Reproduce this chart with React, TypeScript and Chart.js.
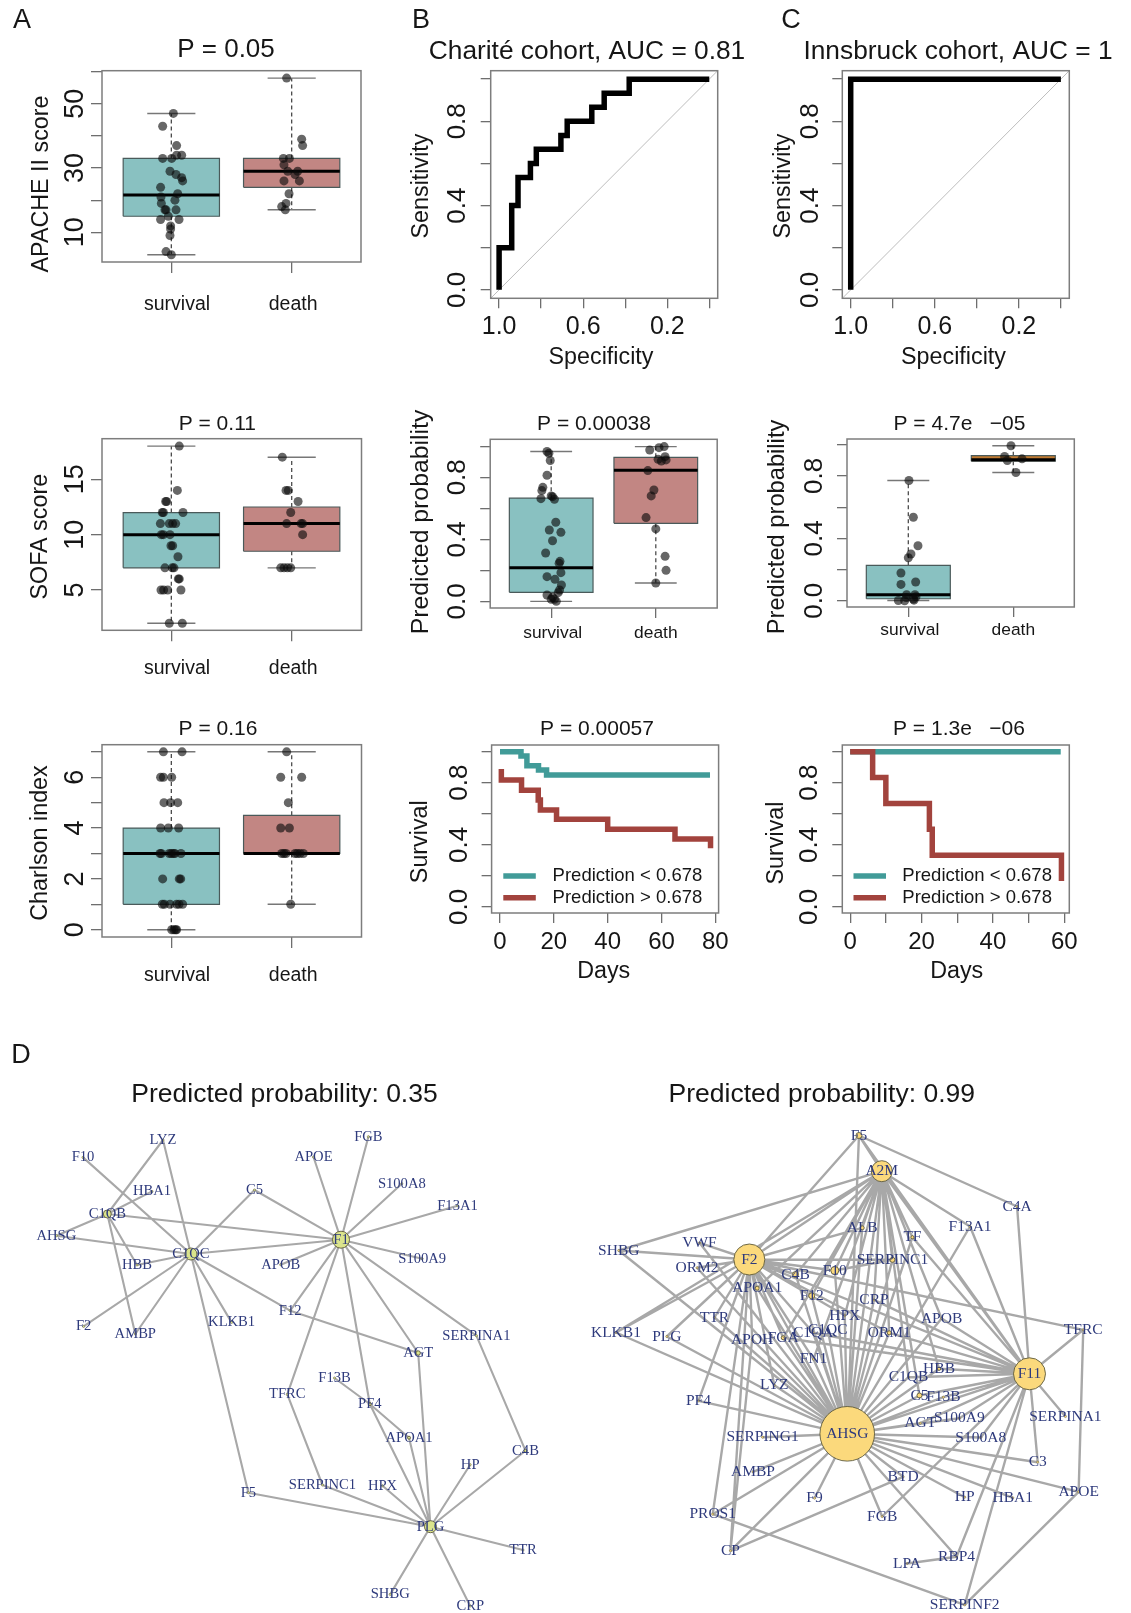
import React, { useEffect, useRef } from "react";
import { Chart, registerables } from "chart.js";
Chart.register(...registerables);

const SANS = "'Liberation Sans', Arial, sans-serif";
const SERIF = "'Liberation Serif', 'Times New Roman', serif";
const TEAL_FILL = "#89c1c1";
const RED_FILL = "#c28683";
const BROWN_FILL = "#c07a30";
const TEAL_LINE = "#419b98";
const RED_LINE = "#a2433d";
const TEXT = "#161616";

const categories = ["survival", "death"];

// ---- panel A: [lower whisker, q1, median, q3, upper whisker]
const apacheSurvivalBox = [3, 15, 21.6, 33, 47];
const apacheDeathBox = [17, 24, 29, 33, 58];
const apacheSurvivalX = [1.017, 0.928, 1.044, 0.928, 1.003, 1.044, 1.086, 0.989, 1.039, 1.086, 1.094, 0.911, 1.053, 0.914, 0.917, 1.03, 0.947, 0.956, 1.039, 0.975, 0.911, 1.064, 0.994, 0.994, 0.989, 0.956, 1.0];
const apacheSurvivalY = [47, 43, 37, 33, 33, 34, 34, 29, 28, 27, 26, 24, 22, 21, 19, 20, 17, 17, 17, 15, 14, 14, 12, 11, 9, 4, 3];
const apacheDeathX = [1.958, 2.083, 2.091, 1.931, 1.981, 1.936, 1.967, 2.05, 2.028, 1.936, 2.064, 1.978, 1.953, 1.917, 1.947];
const apacheDeathY = [58, 39, 37, 33, 33, 31, 29, 29, 28, 26, 26, 22, 19, 18, 17];

const sofaSurvivalBox = [2, 7, 10, 12, 18];
const sofaDeathBox = [7, 8.5, 11, 12.5, 17];
const sofaSurvivalX = [1.066, 1.05, 0.961, 0.953, 0.934, 0.925, 1.097, 0.909, 0.983, 1.011, 1.036, 0.934, 0.917, 0.989, 0.997, 1.011, 1.055, 0.947, 1.008, 1.022, 1.066, 1.058, 0.914, 0.936, 0.97, 1.08, 0.983, 1.091];
const sofaSurvivalY = [18, 14, 13, 13, 12, 12, 12, 11, 11, 11, 11, 10, 10, 10, 9, 9, 8, 7, 7, 7, 6, 6, 5, 5, 5, 5, 2, 2];
const sofaDeathX = [1.922, 1.953, 1.972, 2.053, 1.992, 1.958, 2.078, 2.091, 2.091, 1.909, 1.936, 1.964, 1.992];
const sofaDeathY = [17, 14, 14, 13, 12, 11, 11, 11, 10, 7, 7, 7, 7];

const charlsonSurvivalBox = [0, 1, 3, 4, 7];
const charlsonDeathBox = [1, 3, 3, 4.5, 7];
const charlsonSurvivalX = [0.934, 1.089, 0.911, 0.934, 1.003, 0.939, 0.994, 1.053, 0.911, 0.975, 1.061, 0.906, 0.917, 0.983, 1.0, 1.017, 1.03, 1.08, 0.928, 1.066, 1.078, 0.925, 0.942, 0.989, 1.044, 1.064, 1.094, 1.003, 1.022, 1.036, 1.044];
const charlsonSurvivalY = [7, 7, 6, 6, 6, 5, 5, 5, 4, 4, 4, 3, 3, 3, 3, 3, 3, 3, 2, 2, 2, 1, 1, 1, 1, 1, 1, 0, 0, 0, 0];
const charlsonDeathX = [1.958, 1.909, 2.083, 1.972, 1.909, 1.981, 1.917, 1.936, 1.953, 2.028, 2.047, 2.069, 2.097, 1.992];
const charlsonDeathY = [7, 6, 6, 5, 4, 4, 3, 3, 3, 3, 3, 3, 3, 1];

// ---- panels B / C: ROC curves
const charteSpec = [1, 0.94, 0.91, 0.851, 0.823, 0.706, 0.676, 0.559, 0.5, 0.381, 0];
const charteSens = [0, 0.2, 0.4, 0.533, 0.6, 0.667, 0.733, 0.8, 0.867, 0.933, 1];
const innsSpec = [1, 0];
const innsSens = [0, 1];
const rocDiagonal = [-0.04, 1.04];
const rocTicks = [1, 0.8, 0.6, 0.4, 0.2, 0];

// ---- panels B / C: predicted probability
const charteSurvivalBox = [0, 0.058, 0.217, 0.665, 0.966];
const charteDeathBox = [0.118, 0.503, 0.845, 0.929, 0.998];
const charteSurvivalX = [0.96, 0.978, 0.991, 0.96, 0.92, 0.911, 0.902, 1.0, 1.013, 1.031, 1.044, 0.982, 1.093, 1.013, 0.947, 1.084, 1.076, 1.093, 0.96, 1.036, 1.098, 1.08, 1.067, 0.96, 1.013, 1.031, 1.049, 1.0];
const charteSurvivalY = [0.966, 0.955, 0.908, 0.813, 0.735, 0.714, 0.662, 0.68, 0.675, 0.658, 0.51, 0.46, 0.445, 0.391, 0.312, 0.258, 0.245, 0.185, 0.159, 0.142, 0.105, 0.073, 0.056, 0.041, 0.026, 0.013, 0, 0.013];
const charteDeathX = [1.942, 2.031, 2.08, 2.022, 2.089, 2.053, 2.098, 1.924, 1.982, 1.956, 1.907, 2.0, 2.089, 2.098, 2.0];
const charteDeathY = [0.976, 0.991, 0.998, 0.916, 0.933, 0.905, 0.912, 0.843, 0.718, 0.68, 0.54, 0.467, 0.29, 0.2, 0.118];

const innsSurvivalBox = [0.002, 0.013, 0.039, 0.227, 0.771];
const innsDeathBox = [0.822, 0.895, 0.904, 0.93, 0.994];
const innsSurvivalX = [1.006, 1.048, 1.092, 1.025, 1.0, 0.93, 0.93, 1.07, 0.984, 1.063, 0.981, 1.073, 1.054, 0.905, 0.965, 1.048];
const innsSurvivalY = [0.771, 0.535, 0.353, 0.3, 0.276, 0.178, 0.105, 0.12, 0.039, 0.039, 0.021, 0.026, 0.004, 0.002, 0, 0.011];
const innsDeathX = [1.978, 1.917, 1.943, 2.083, 2.025];
const innsDeathY = [0.994, 0.925, 0.899, 0.91, 0.822];

// ---- panels B / C: survival
const kmLegend = ["Prediction < 0.678", "Prediction > 0.678"];
const charteLowDays = [0, 7.8, 10, 14.3, 17.3, 78];
const charteLowSurv = [1, 0.972, 0.91, 0.882, 0.85, 0.85];
const charteHighDays = [0.5, 0.5, 8, 14.2, 15, 21, 40, 65, 78.2];
const charteHighSurv = [0.888, 0.818, 0.751, 0.689, 0.624, 0.564, 0.5, 0.438, 0.378];
const innsLowDays = [0, 59];
const innsLowSurv = [1, 1];
const innsHighDays = [0, 6.3, 10, 22.2, 23, 59.2];
const innsHighSurv = [1, 0.833, 0.667, 0.5, 0.333, 0.167];

// ---- panel D: network layouts
const leftNames = ["LYZ","F10","HBA1","C1QB","AHSG","C1QC","HBB","F1","C5","APOE","FGB","S100A8","F13A1","S100A9","APOB","F12","KLKB1","F2","AMBP","SERPINA1","AGT","F13B","TFRC","PF4","APOA1","C4B","HP","HPX","SERPINC1","F5","PLG","TTR","SHBG","CRP"];
const leftX = [163,83,152,107.3,56.4,190.9,137,341,254.5,313.5,368.4,401.8,457.5,422.2,280.7,290.2,231.6,83.6,135.3,476.4,418.2,334.5,287.3,369.8,409,525.5,470.2,382.5,322.5,248.4,430.5,523,390.2,470.2];
const leftY = [1139.3,1156.7,1190.7,1213.3,1235,1253.3,1264.3,1239,1189.3,1156.3,1136,1183,1205,1258,1264,1310,1321.7,1325.7,1333.3,1335,1352.3,1377.3,1393.7,1403.3,1437,1450,1464,1485,1484.3,1492,1526,1549.3,1593.7,1605.3];
const leftSizes: Record<string, number> = { F1: 8.5, C1QC: 6, PLG: 6, C1QB: 4, AGT: 2.2, PF4: 1.6, APOA1: 1.5, C4B: 1.5 };
const leftEdges = [
  "C1QB LYZ HBA1 AHSG F1 HBB AMBP",
  "C1QC LYZ F10 AHSG C5 F1 HBB F2 AMBP KLKB1 F12 F5",
  "F1 APOE FGB S100A8 F13A1 S100A9 APOB C5 F12 TFRC PF4 AGT SERPINA1",
  "F12 AGT", "SERPINA1 C4B", "TFRC SERPINC1", "F13B PF4", "PF4 APOA1",
  "PLG PF4 APOA1 AGT C4B HP HPX SERPINC1 F5 TTR SHBG CRP",
];
const rightNames = ["F5","A2M","C4A","F13A1","ALB","TF","VWF","SHBG","F2","SERPINC1","ORM2","F10","C4B","APOA1","F12","CRP","HPX","TTR","APOB","KLKB1","C1QA","C1QC","ORM1","PLG","APOH","FGA","TFRC","FN1","HBB","C1QB","F11","LYZ","C5","F13B","PF4","S100A9","SERPINA1","AGT","AHSG","SERPING1","S100A8","C3","AMBP","BTD","APOE","F9","HP","HBA1","FGB","PROS1","CP","LPA","RBP4","SERPINF2"];
const rightX = [863.8,887.1,1025.3,977.3,867.1,918.4,700.9,618.4,751.8,898,698.4,839.1,799,759.8,815.5,879.1,849.3,716.2,948.2,615.5,817,832,894.7,667.5,754.7,786.4,1092.9,817.3,945.6,914.4,1038,777.3,925.6,950,699.8,966.4,1074.7,926.4,851.8,765.3,988.2,1046.4,755.5,908.9,1088.2,818.4,971.8,1020.9,887.5,714.4,732.5,912.9,963.5,971.8];
const rightY = [1135,1170.7,1206,1226,1227.3,1236.7,1242.3,1250,1259,1259.3,1267.3,1270,1274,1287.7,1295.3,1299.3,1315,1317,1318,1332,1332.3,1329.3,1332.3,1336,1339,1337.3,1329.3,1358.7,1368.3,1376.7,1373.3,1384.7,1395,1396.7,1400.3,1417.7,1416,1422.7,1433.3,1436.7,1437,1461.7,1471.3,1476.3,1491.3,1497.7,1496.7,1497.3,1516,1513.7,1550.3,1563,1556.3,1604.3];
const rightSizes: Record<string, number> = { AHSG: 27.3, F11: 16, F2: 15.5, A2M: 10.5, F10: 4, F5: 3, C4B: 3, F12: 3, C5: 2.5, SERPINC1: 2.5, APOA1: 2, FGA: 2, ORM1: 2, ALB: 2, TF: 1.6, HBB: 1.6 };
const rightEdges = [
  "AHSG A2M F2 F11 F5 ALB TF SERPINC1 F10 C4B APOA1 F12 CRP HPX TTR APOB KLKB1 C1QA C1QC ORM1 PLG APOH FGA VWF SHBG FN1 HBB C1QB LYZ C5 F13B PF4 S100A9 AGT SERPING1 S100A8 C3 AMBP BTD APOE F9 HP HBA1 FGB PROS1 CP ORM2 F13A1 RBP4",
  "F2 A2M F5 SHBG VWF ORM2 KLKB1 PLG ALB C4B F10 SERPINC1 F12 APOA1 TTR APOH PF4 PROS1 CP FGA FN1 LYZ HPX ORM1 F11 TFRC C1QA",
  "F11 A2M F5 C4A F13A1 TF TFRC ORM1 APOB FGA C1QA HBB C1QB C5 F13B S100A9 S100A8 SERPINA1 C3 FGB RBP4 SERPINF2 AGT CRP",
  "A2M F5 SHBG F13A1 ALB TF HBB KLKB1 APOA1 C4B F10 F12 CRP HPX SERPINC1 ORM1 FN1 FGA C1QB C5 APOB",
  "F5 C4A", "TFRC APOE", "APOE SERPINF2", "SERPINF2 PROS1", "RBP4 LPA", "CP BTD", "CP APOH", "F10 SERPINC1",
];

type Ann = { t: string; x: number; y: number; fs: number; rot?: boolean; family?: string };
type Leg = { x0: number; x1: number; tx: number; y: number; color: string; label: string; fs: number };

const measureCtx = document.createElement("canvas").getContext("2d")!;
function textWidth(t: string, fs: number) {
  measureCtx.font = `${fs}px ${SANS}`;
  return measureCtx.measureText(t).width;
}

// Draws titles, axis titles, legends and the R style frame.
const decorPlugin = {
  id: "decor",
  afterDraw(chart: any, _a: any, o: any) {
    const ctx = chart.ctx;
    const [fx, fy] = o.origin;
    if (o.frame) {
      const a = chart.chartArea;
      ctx.save();
      ctx.strokeStyle = "#7d7d7d";
      ctx.lineWidth = 1.5;
      ctx.strokeRect(a.left, a.top, a.right - a.left, a.bottom - a.top);
      ctx.restore();
    }
    (o.legend || []).forEach((l: Leg) => {
      ctx.save();
      ctx.strokeStyle = l.color;
      ctx.lineWidth = 5.5;
      ctx.beginPath();
      ctx.moveTo(l.x0 - fx, l.y + 1 - fy);
      ctx.lineTo(l.x1 - fx, l.y + 1 - fy);
      ctx.stroke();
      ctx.fillStyle = TEXT;
      ctx.font = `${l.fs}px ${SANS}`;
      ctx.textAlign = "left";
      ctx.textBaseline = "middle";
      ctx.fillText(l.label, l.tx - fx, l.y + 1 - fy);
      ctx.restore();
    });
    (o.texts || []).forEach((a: Ann) => {
      ctx.save();
      ctx.translate(a.x - fx + (a.rot ? 2 : 0), a.y - fy + (a.rot ? 0 : 2));
      if (a.rot) ctx.rotate(-Math.PI / 2);
      ctx.fillStyle = TEXT;
      ctx.font = `${a.fs}px ${a.family || SANS}`;
      ctx.textAlign = "center";
      ctx.textBaseline = "middle";
      ctx.fillText(a.t, 0, 0);
      ctx.restore();
    });
  },
};

// Writes each gene name on its node.
const nodeLabelPlugin = {
  id: "nodeLabels",
  afterDraw(chart: any, _a: any, o: any) {
    if (!o.names) return;
    const ctx = chart.ctx;
    const meta = chart.getDatasetMeta(0);
    ctx.save();
    ctx.fillStyle = "#2e3a7c";
    ctx.font = `${o.fs}px ${SERIF}`;
    ctx.textAlign = "center";
    ctx.textBaseline = "middle";
    o.names.forEach((n: string, i: number) => {
      const p = meta.data[i];
      ctx.fillText(n, p.x, p.y);
    });
    ctx.restore();
  },
};

const GAP = { x: null as any, y: null as any };
const zip = (xs: number[], ys: number[]) => xs.map((x, i) => ({ x, y: ys[i] }));

function boxDatasets(pos: number, s: number[], fill: string) {
  const [lo, q1, med, q3, hi] = s;
  const hw = 0.4;
  const cw = 0.2;
  return [
    { data: [{ x: pos, y: q3 }, { x: pos, y: hi }, GAP, { x: pos, y: q1 }, { x: pos, y: lo }], showLine: true, pointRadius: 0, borderColor: "#4c4c4c", borderWidth: 1.3, borderDash: [4, 3], order: 6 },
    { data: [{ x: pos - cw, y: hi }, { x: pos + cw, y: hi }, GAP, { x: pos - cw, y: lo }, { x: pos + cw, y: lo }], showLine: true, pointRadius: 0, borderColor: "#777777", borderWidth: 1.4, order: 5 },
    { data: [{ x: pos - hw, y: q1 }, { x: pos + hw, y: q1 }, { x: pos + hw, y: q3 }, { x: pos - hw, y: q3 }, { x: pos - hw, y: q1 }], showLine: true, pointRadius: 0, borderColor: "#4a5a5a", borderWidth: 1.2, backgroundColor: fill, fill: "shape", order: 4 },
    { data: [{ x: pos - hw, y: med }, { x: pos + hw, y: med }], showLine: true, pointRadius: 0, borderColor: "#000000", borderWidth: 3, order: 3 },
  ];
}
const dots = (xs: number[], ys: number[]) => ({ data: zip(xs, ys), pointRadius: 4.5, pointBorderWidth: 0, pointBackgroundColor: "rgba(10,10,10,0.62)", showLine: false, order: 1 });

type Panel = {
  frame: number[]; box: number[]; xr: number[]; yr: number[];
  xTicks: number[]; xLabel: (v: number) => string; xFs: number; xBase: number; labelShift?: number[];
  yTicks: number[]; yShown: number[]; dec: number; yFs: number; yc: number; tl: number;
  datasets: any[]; texts: Ann[]; legend?: Leg[]; reverse?: boolean;
};

function panelConfig(p: Panel) {
  const [l, t, r, b] = p.frame;
  const [x0, y0, x1, y1] = p.box;
  const fmt = (v: number) => v.toFixed(p.dec);
  const shownText = p.yShown.map(fmt);
  const widest = Math.max(...shownText.map((s) => textWidth(s, p.yFs)));
  return {
    type: "scatter",
    data: { datasets: p.datasets },
    plugins: [decorPlugin],
    options: {
      animation: false, responsive: false,
      layout: { autoPadding: false, padding: { left: 0, top: y0 - t, right: r - x1, bottom: 0 } },
      plugins: { legend: { display: false }, tooltip: { enabled: false }, title: { display: false }, decor: { origin: [l, t], frame: true, texts: p.texts, legend: p.legend || [] } },
      scales: {
        x: {
          type: "linear", min: p.xr[0], max: p.xr[1], reverse: !!p.reverse,
          grid: { drawOnChartArea: false, drawTicks: true, tickLength: p.tl, color: "#6e6e6e", lineWidth: 1.3 }, border: { display: false },
          ticks: { autoSkip: false, maxRotation: 0, minRotation: 0, color: TEXT, font: { family: SANS, size: p.xFs }, padding: p.xBase + 1 - y1 - p.tl - p.xFs * 0.905, callback: (v: number) => p.xLabel(v) },
          afterBuildTicks: (s: any) => { s.ticks = p.xTicks.map((value) => ({ value })); },
          afterFit: (s: any) => { s.height = b - y1; s.paddingLeft = 0; s.paddingRight = 0; s.paddingTop = 0; s.paddingBottom = 0; },
          afterUpdate: (s: any) => {
            if (!p.labelShift || s.__shifted) return;
            s.__shifted = true;
            const compute = s._computeLabelItems;
            s._computeLabelItems = function (area: any) {
              const items = compute.call(this, area);
              items.forEach((it: any, i: number) => {
                const [tx, ty] = it.options.translation;
                it.options.translation = [tx + (p.labelShift![i] || 0), ty];
              });
              return items;
            };
            s._labelItems = null;
          },
        },
        y: {
          type: "linear", min: p.yr[0], max: p.yr[1],
          grid: { drawOnChartArea: false, drawTicks: true, tickLength: p.tl, color: "#6e6e6e", lineWidth: 1.3 }, border: { display: false },
          ticks: { autoSkip: false, minRotation: 90, maxRotation: 90, crossAlign: "center", color: TEXT, font: { family: SANS, size: p.yFs }, padding: x0 - p.tl - p.yc - widest / 2, callback: (v: number) => (shownText.includes(fmt(v)) ? fmt(v) : "") },
          afterBuildTicks: (s: any) => { s.ticks = p.yTicks.map((value) => ({ value })); },
          afterFit: (s: any) => { s.width = x0 - l; s.paddingLeft = 0; s.paddingRight = 0; s.paddingTop = 0; s.paddingBottom = 0; },
        },
      },
    },
  };
}

function networkConfig(frame: number[], layoutFit: number[], names: string[], xs: number[], ys: number[], sizes: Record<string, number>, edges: string[], fill: string, fs: number, edgeWidth: number, texts: Ann[]) {
  const [l, t, r, b] = frame;
  const [ax, bx, ay, by] = layoutFit;
  const pos = (n: string) => { const i = names.indexOf(n); return { x: xs[i], y: ys[i] }; };
  const segs: any[] = [];
  edges.forEach((row) => {
    const [hub, ...rest] = row.split(" ");
    rest.forEach((n) => segs.push(pos(hub), pos(n), GAP));
  });
  return {
    type: "scatter",
    data: {
      datasets: [
        { data: zip(xs, ys), showLine: false, order: 1, pointRadius: names.map((n) => sizes[n] || 1.1), pointBackgroundColor: fill, pointBorderColor: "#5e5a3c", pointBorderWidth: names.map((n) => (sizes[n] ? 0.9 : 0.5)) },
        { data: segs, showLine: true, pointRadius: 0, borderColor: "#a8a8a8", borderWidth: edgeWidth, order: 2 },
      ],
    },
    plugins: [decorPlugin, nodeLabelPlugin],
    options: {
      animation: false, responsive: false, layout: { autoPadding: false, padding: 0 },
      plugins: { legend: { display: false }, tooltip: { enabled: false }, decor: { origin: [l, t], frame: false, texts }, nodeLabels: { names, fs } },
      scales: {
        x: { type: "linear", display: false, min: (l - bx) / ax, max: (r - bx) / ax },
        y: { type: "linear", display: false, min: (t - by) / ay, max: (b - by) / ay, reverse: true },
      },
    },
  };
}

const catLabel = (v: number) => categories[Math.round(v) - 1] || "";
const rocLabel = (v: number) => (Math.abs(v - 1) < 1e-6 || Math.abs(v - 0.6) < 1e-6 || Math.abs(v - 0.2) < 1e-6 ? v.toFixed(1) : "");
const dayLabel = (v: number) => (v % 20 === 0 ? String(v) : "");
const probTicks = [0, 0.2, 0.4, 0.6, 0.8, 1];
const probShown = [0, 0.4, 0.8];
const wideShift = [5.7, 1.5];
const narrowShift = [1.5, 0];

const panels: Panel[] = [
  {
    frame: [0, 0, 395, 390], box: [102, 70.7, 361, 262], xr: [0.424, 2.576], yr: [0.76, 60.3],
    xTicks: [1, 2], xLabel: catLabel, xFs: 19.5, xBase: 309.3, labelShift: wideShift, yTicks: [10, 20, 30, 40, 50, 60], yShown: [10, 30, 50], dec: 0, yFs: 27, yc: 76, tl: 11,
    datasets: [dots(apacheSurvivalX, apacheSurvivalY), dots(apacheDeathX, apacheDeathY), ...boxDatasets(1, apacheSurvivalBox, TEAL_FILL), ...boxDatasets(2, apacheDeathBox, RED_FILL)],
    texts: [{ t: "A", x: 22, y: 19, fs: 27 }, { t: "P = 0.05", x: 226, y: 48, fs: 26 }, { t: "APACHE II score", x: 40, y: 184, fs: 23.3, rot: true }],
  },
  {
    frame: [0, 390, 395, 695], box: [102, 438.7, 361.5, 630.3], xr: [0.424, 2.58], yr: [1.36, 18.67],
    xTicks: [1, 2], xLabel: catLabel, xFs: 19.5, xBase: 674, labelShift: wideShift, yTicks: [5, 10, 15], yShown: [5, 10, 15], dec: 0, yFs: 27, yc: 75.5, tl: 11,
    datasets: [dots(sofaSurvivalX, sofaSurvivalY), dots(sofaDeathX, sofaDeathY), ...boxDatasets(1, sofaSurvivalBox, TEAL_FILL), ...boxDatasets(2, sofaDeathBox, RED_FILL)],
    texts: [{ t: "P = 0.11", x: 217.3, y: 422.7, fs: 21 }, { t: "SOFA score", x: 39, y: 536.7, fs: 23.3, rot: true }],
  },
  {
    frame: [0, 695, 395, 1000], box: [102, 744.7, 361.5, 937], xr: [0.424, 2.58], yr: [-0.287, 7.28],
    xTicks: [1, 2], xLabel: catLabel, xFs: 19.5, xBase: 980.7, labelShift: wideShift, yTicks: [0, 1, 2, 3, 4, 5, 6, 7], yShown: [0, 2, 4, 6], dec: 0, yFs: 27, yc: 75.5, tl: 11,
    datasets: [dots(charlsonSurvivalX, charlsonSurvivalY), dots(charlsonDeathX, charlsonDeathY), ...boxDatasets(1, charlsonSurvivalBox, TEAL_FILL), ...boxDatasets(2, charlsonDeathBox, RED_FILL)],
    texts: [{ t: "P = 0.16", x: 218, y: 727, fs: 21 }, { t: "Charlson index", x: 39, y: 843, fs: 23.3, rot: true }],
  },
  {
    frame: [395, 0, 755, 390], box: [490.7, 70.7, 717.7, 298.3], xr: [-0.04, 1.04], yr: [-0.04, 1.04], reverse: true,
    xTicks: rocTicks, xLabel: rocLabel, xFs: 25, xBase: 334, yTicks: rocTicks, yShown: [0, 0.4, 0.8], dec: 1, yFs: 26, yc: 458, tl: 10,
    datasets: [
      { data: zip(charteSpec, charteSens), showLine: true, stepped: "after", pointRadius: 0, borderColor: "#000", borderWidth: 5.5, borderJoinStyle: "miter", order: 1 },
      { data: zip(rocDiagonal.slice().reverse(), rocDiagonal), showLine: true, pointRadius: 0, borderColor: "#bdbdbd", borderWidth: 1, order: 2 },
    ],
    texts: [{ t: "B", x: 421, y: 19, fs: 27 }, { t: "Charité cohort, AUC = 0.81", x: 587, y: 50, fs: 26.3 }, { t: "Sensitivity", x: 419.5, y: 186, fs: 23.3, rot: true }, { t: "Specificity", x: 601, y: 356, fs: 23.3 }],
  },
  {
    frame: [755, 0, 1131, 390], box: [842.3, 70.7, 1069.3, 298.3], xr: [-0.04, 1.04], yr: [-0.04, 1.04], reverse: true,
    xTicks: rocTicks, xLabel: rocLabel, xFs: 25, xBase: 334, yTicks: rocTicks, yShown: [0, 0.4, 0.8], dec: 1, yFs: 26, yc: 811, tl: 10,
    datasets: [
      { data: zip(innsSpec, innsSens), showLine: true, stepped: "after", pointRadius: 0, borderColor: "#000", borderWidth: 5.5, borderJoinStyle: "miter", order: 1 },
      { data: zip(rocDiagonal.slice().reverse(), rocDiagonal), showLine: true, pointRadius: 0, borderColor: "#bdbdbd", borderWidth: 1, order: 2 },
    ],
    texts: [{ t: "C", x: 791, y: 19, fs: 27 }, { t: "Innsbruck cohort, AUC = 1", x: 958, y: 50, fs: 26.3 }, { t: "Sensitivity", x: 781.4, y: 186, fs: 23.3, rot: true }, { t: "Specificity", x: 953.5, y: 356, fs: 23.3 }],
  },
  {
    frame: [395, 390, 755, 695], box: [490.2, 439.3, 717.2, 608], xr: [0.417, 2.587], yr: [-0.043, 1.045],
    xTicks: [1, 2], xLabel: catLabel, xFs: 17.4, xBase: 638, labelShift: narrowShift, yTicks: probTicks, yShown: probShown, dec: 1, yFs: 26, yc: 458, tl: 10,
    datasets: [dots(charteSurvivalX, charteSurvivalY), dots(charteDeathX, charteDeathY), ...boxDatasets(1, charteSurvivalBox, TEAL_FILL), ...boxDatasets(2, charteDeathBox, RED_FILL)],
    texts: [{ t: "P = 0.00038", x: 594, y: 422.7, fs: 21 }, { t: "Predicted probability", x: 419.5, y: 522, fs: 24.8, rot: true }],
  },
  {
    frame: [755, 390, 1131, 695], box: [847, 439, 1074.3, 607], xr: [0.416, 2.581], yr: [-0.04, 1.037],
    xTicks: [1, 2], xLabel: catLabel, xFs: 17.4, xBase: 635, labelShift: narrowShift, yTicks: probTicks, yShown: probShown, dec: 1, yFs: 26, yc: 815, tl: 10,
    datasets: [dots(innsSurvivalX, innsSurvivalY), dots(innsDeathX, innsDeathY), ...boxDatasets(1, innsSurvivalBox, TEAL_FILL), ...boxDatasets(2, innsDeathBox, BROWN_FILL)],
    texts: [{ t: "P = 4.7e   −05", x: 959.5, y: 422.7, fs: 21 }, { t: "Predicted probability", x: 775.8, y: 527, fs: 23.7, rot: true }],
  },
  {
    frame: [395, 695, 755, 1000], box: [491.6, 745, 718.6, 913], xr: [-3.12, 81.2], yr: [-0.039, 1.043],
    xTicks: [0, 20, 40, 60, 80], xLabel: dayLabel, xFs: 24, xBase: 949, yTicks: probTicks, yShown: probShown, dec: 1, yFs: 26, yc: 459.5, tl: 10,
    datasets: [
      { data: zip(charteHighDays, charteHighSurv), showLine: true, stepped: true, pointRadius: 0, borderColor: RED_LINE, borderWidth: 5.5, borderJoinStyle: "miter", order: 1 },
      { data: zip(charteLowDays, charteLowSurv), showLine: true, stepped: true, pointRadius: 0, borderColor: TEAL_LINE, borderWidth: 5.5, borderJoinStyle: "miter", order: 2 },
    ],
    texts: [{ t: "P = 0.00057", x: 597, y: 727.3, fs: 21 }, { t: "Survival", x: 418.6, y: 841.7, fs: 23.3, rot: true }, { t: "Days", x: 603.7, y: 970, fs: 23.3 }],
    legend: [
      { x0: 503.3, x1: 535.8, tx: 552.6, y: 875, color: TEAL_LINE, label: kmLegend[0], fs: 18.5 },
      { x0: 503.3, x1: 535.8, tx: 552.6, y: 896.7, color: RED_LINE, label: kmLegend[1], fs: 18.5 },
    ],
  },
  {
    frame: [755, 695, 1131, 1000], box: [842.3, 745, 1069.3, 913], xr: [-2.2, 61.4], yr: [-0.039, 1.043],
    xTicks: [0, 10, 20, 30, 40, 50, 60], xLabel: dayLabel, xFs: 24, xBase: 949, yTicks: probTicks, yShown: probShown, dec: 1, yFs: 26, yc: 810, tl: 10,
    datasets: [
      { data: zip(innsHighDays, innsHighSurv), showLine: true, stepped: true, pointRadius: 0, borderColor: RED_LINE, borderWidth: 5.5, borderJoinStyle: "miter", order: 1 },
      { data: zip(innsLowDays, innsLowSurv), showLine: true, stepped: true, pointRadius: 0, borderColor: TEAL_LINE, borderWidth: 5.5, borderJoinStyle: "miter", order: 2 },
    ],
    texts: [{ t: "P = 1.3e   −06", x: 959, y: 727.3, fs: 21 }, { t: "Survival", x: 774.4, y: 843, fs: 23.3, rot: true }, { t: "Days", x: 956.7, y: 970, fs: 23.3 }],
    legend: [
      { x0: 853.5, x1: 886, tx: 902.3, y: 875, color: TEAL_LINE, label: kmLegend[0], fs: 18.5 },
      { x0: 853.5, x1: 886, tx: 902.3, y: 896.7, color: RED_LINE, label: kmLegend[1], fs: 18.5 },
    ],
  },
];

const netLeftFrame = [0, 1000, 570, 1613];
const netRightFrame = [570, 1000, 1131, 1613];
const netLeftFit = [1, 0, 1, 0.7];
const netRightFit = [0.9789, 13.4, 1, 0.5];

function ChartCanvas({ frame, config }: { frame: number[]; config: () => any }) {
  const ref = useRef<HTMLCanvasElement>(null);
  useEffect(() => {
    const chart = new Chart(ref.current!, config());
    return () => chart.destroy();
  }, []);
  const [l, t, r, b] = frame;
  return (
    <canvas
      ref={ref}
      width={r - l}
      height={b - t}
      style={{ position: "absolute", left: l, top: t, width: r - l, height: b - t, filter: "blur(0.4px)" }}
    />
  );
}

export default function App() {
  return (
    <div style={{ position: "absolute", left: 0, top: 0, width: 1131, height: 1613, background: "#fff", overflow: "hidden" }}>
      {panels.map((p, i) => (
        <ChartCanvas key={i} frame={p.frame} config={() => panelConfig(p)} />
      ))}
      <ChartCanvas
        frame={netLeftFrame}
        config={() =>
          networkConfig(netLeftFrame, netLeftFit, leftNames, leftX, leftY, leftSizes, leftEdges, "#dbe48c", 14.6, 2.1, [
            { t: "D", x: 21, y: 1054, fs: 27 },
            { t: "Predicted probability: 0.35", x: 284.5, y: 1092.7, fs: 26.5 },
          ])
        }
      />
      <ChartCanvas
        frame={netRightFrame}
        config={() =>
          networkConfig(netRightFrame, netRightFit, rightNames, rightX, rightY, rightSizes, rightEdges, "#fbd97c", 15.5, 2.4, [
            { t: "Predicted probability: 0.99", x: 821.8, y: 1092.7, fs: 26.5 },
          ])
        }
      />
    </div>
  );
}
